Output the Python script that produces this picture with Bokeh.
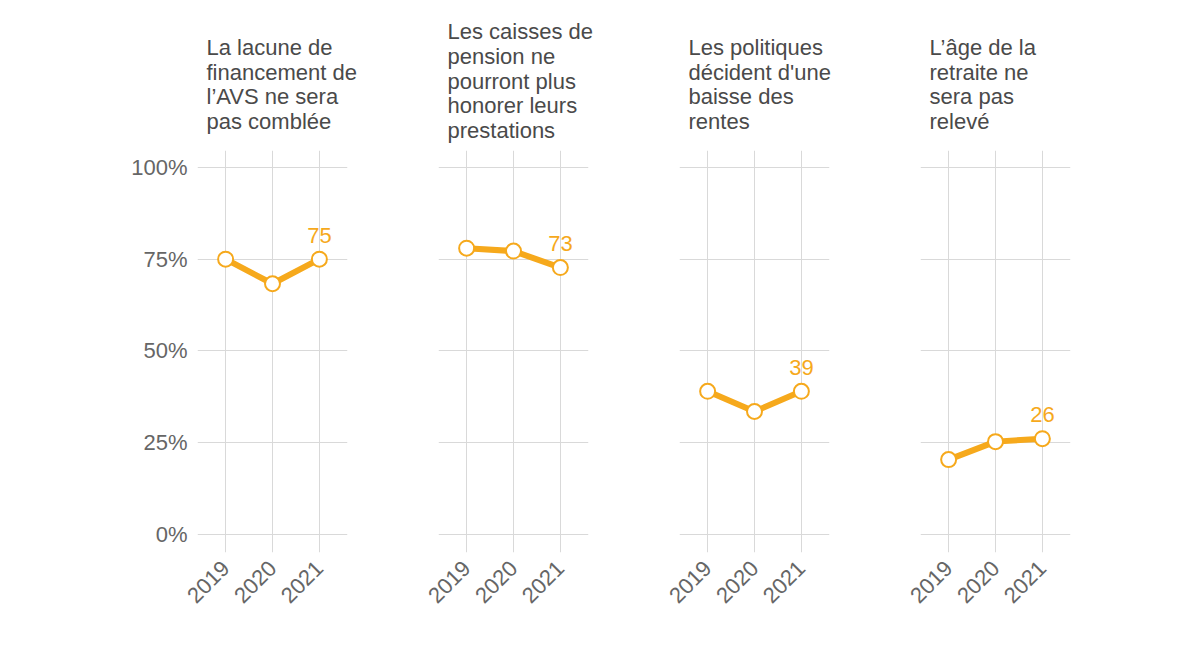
import math
from bokeh.plotting import figure
from bokeh.layouts import row
from bokeh.models import FixedTicker, Title, ColumnDataSource, Range1d
from bokeh.core.properties import value
from bokeh.embed import file_html
from bokeh.resources import INLINE

years = [2019, 2020, 2021]
titles = [
    "La lacune de\nfinancement de\nl’AVS ne sera\npas comblée",
    "Les caisses de\npension ne\npourront plus\nhonorer leurs\nprestations",
    "Les politiques\ndécident d'une\nbaisse des\nrentes",
    "L’âge de la\nretraite ne\nsera pas\nrelevé",
]
lacune_avs = [75, 68.3, 75]
caisses_pension = [78, 77.2, 72.7]
baisse_rentes = [39, 33.5, 39]
age_retraite = [20.4, 25.3, 26.1]
series = [lacune_avs, caisses_pension, baisse_rentes, age_retraite]
y_ticks = [0, 25, 50, 75, 100]
y_tick_labels = {0: "0%", 25: "25%", 50: "50%", 75: "75%", 100: "100%"}

ORANGE = "#F6A91C"
FONT = "Liberation Sans"
GRID = "#d9d9d9"
TXT = "#4a4a4a"
TICK_TXT = "#666666"

figs = []
for i, (title, vals) in enumerate(zip(titles, series)):
    first = i == 0
    p = figure(
        frame_width=150, frame_height=402,
        min_border_left=197 if first else 45, min_border_right=46,
        min_border_top=150, min_border_bottom=80,
        x_range=Range1d(2018.4, 2021.6), y_range=Range1d(-4.9, 104.6),
        toolbar_location=None, output_backend="svg",
    )
    p.title = None
    lines = title.count("\n") + 1
    t = Title(text=title, align="left", offset=9,
              text_font=FONT, text_font_size="22px", text_font_style="normal",
              text_color=TXT, text_line_height=0.99,
              standoff=15 if lines == 5 else 33)
    p.add_layout(t, "above")
    p.outline_line_color = None
    p.background_fill_color = "white"
    p.border_fill_color = "white"

    p.xaxis.ticker = FixedTicker(ticks=years)
    p.xaxis.major_label_orientation = math.pi / 4
    p.xaxis.axis_line_color = None
    p.xaxis.major_tick_line_color = None
    p.xaxis.minor_tick_line_color = None
    p.xaxis.major_tick_out = 0
    p.xaxis.major_tick_in = 0
    p.xaxis.major_label_standoff = 12
    p.xaxis.major_label_text_font = FONT
    p.xaxis.major_label_text_font_size = "22px"
    p.xaxis.major_label_text_color = TICK_TXT

    p.yaxis.ticker = FixedTicker(ticks=y_ticks)
    p.yaxis.major_label_overrides = y_tick_labels
    p.yaxis.axis_line_color = None
    p.yaxis.major_tick_line_color = None
    p.yaxis.minor_tick_line_color = None
    p.yaxis.major_tick_out = 0
    p.yaxis.major_tick_in = 0
    p.yaxis.major_label_standoff = 10
    p.yaxis.major_label_text_font = FONT
    p.yaxis.major_label_text_font_size = "22px"
    p.yaxis.major_label_text_color = TICK_TXT
    if not first:
        p.yaxis.visible = False

    p.xgrid.ticker = FixedTicker(ticks=years)
    p.ygrid.ticker = FixedTicker(ticks=y_ticks)
    p.xgrid.grid_line_color = GRID
    p.ygrid.grid_line_color = GRID
    p.xgrid.grid_line_width = 1
    p.ygrid.grid_line_width = 1

    src = ColumnDataSource(dict(x=years, y=vals))
    p.line("x", "y", source=src, line_color=ORANGE, line_width=6, line_join="round")
    p.scatter("x", "y", source=src, size=15, fill_color="white",
              line_color=ORANGE, line_width=2)
    lab = ColumnDataSource(dict(x=[years[-1]], y=[vals[-1]], t=[str(round(vals[-1]))]))
    p.text("x", "y", text="t", source=lab, text_font=value(FONT),
           text_font_size="22px", text_color=ORANGE, text_align="center",
           text_baseline="alphabetic", y_offset=-24)
    figs.append(p)

layout = row(*figs, spacing=0)
open("out.html", "w").write(file_html(layout, INLINE))
